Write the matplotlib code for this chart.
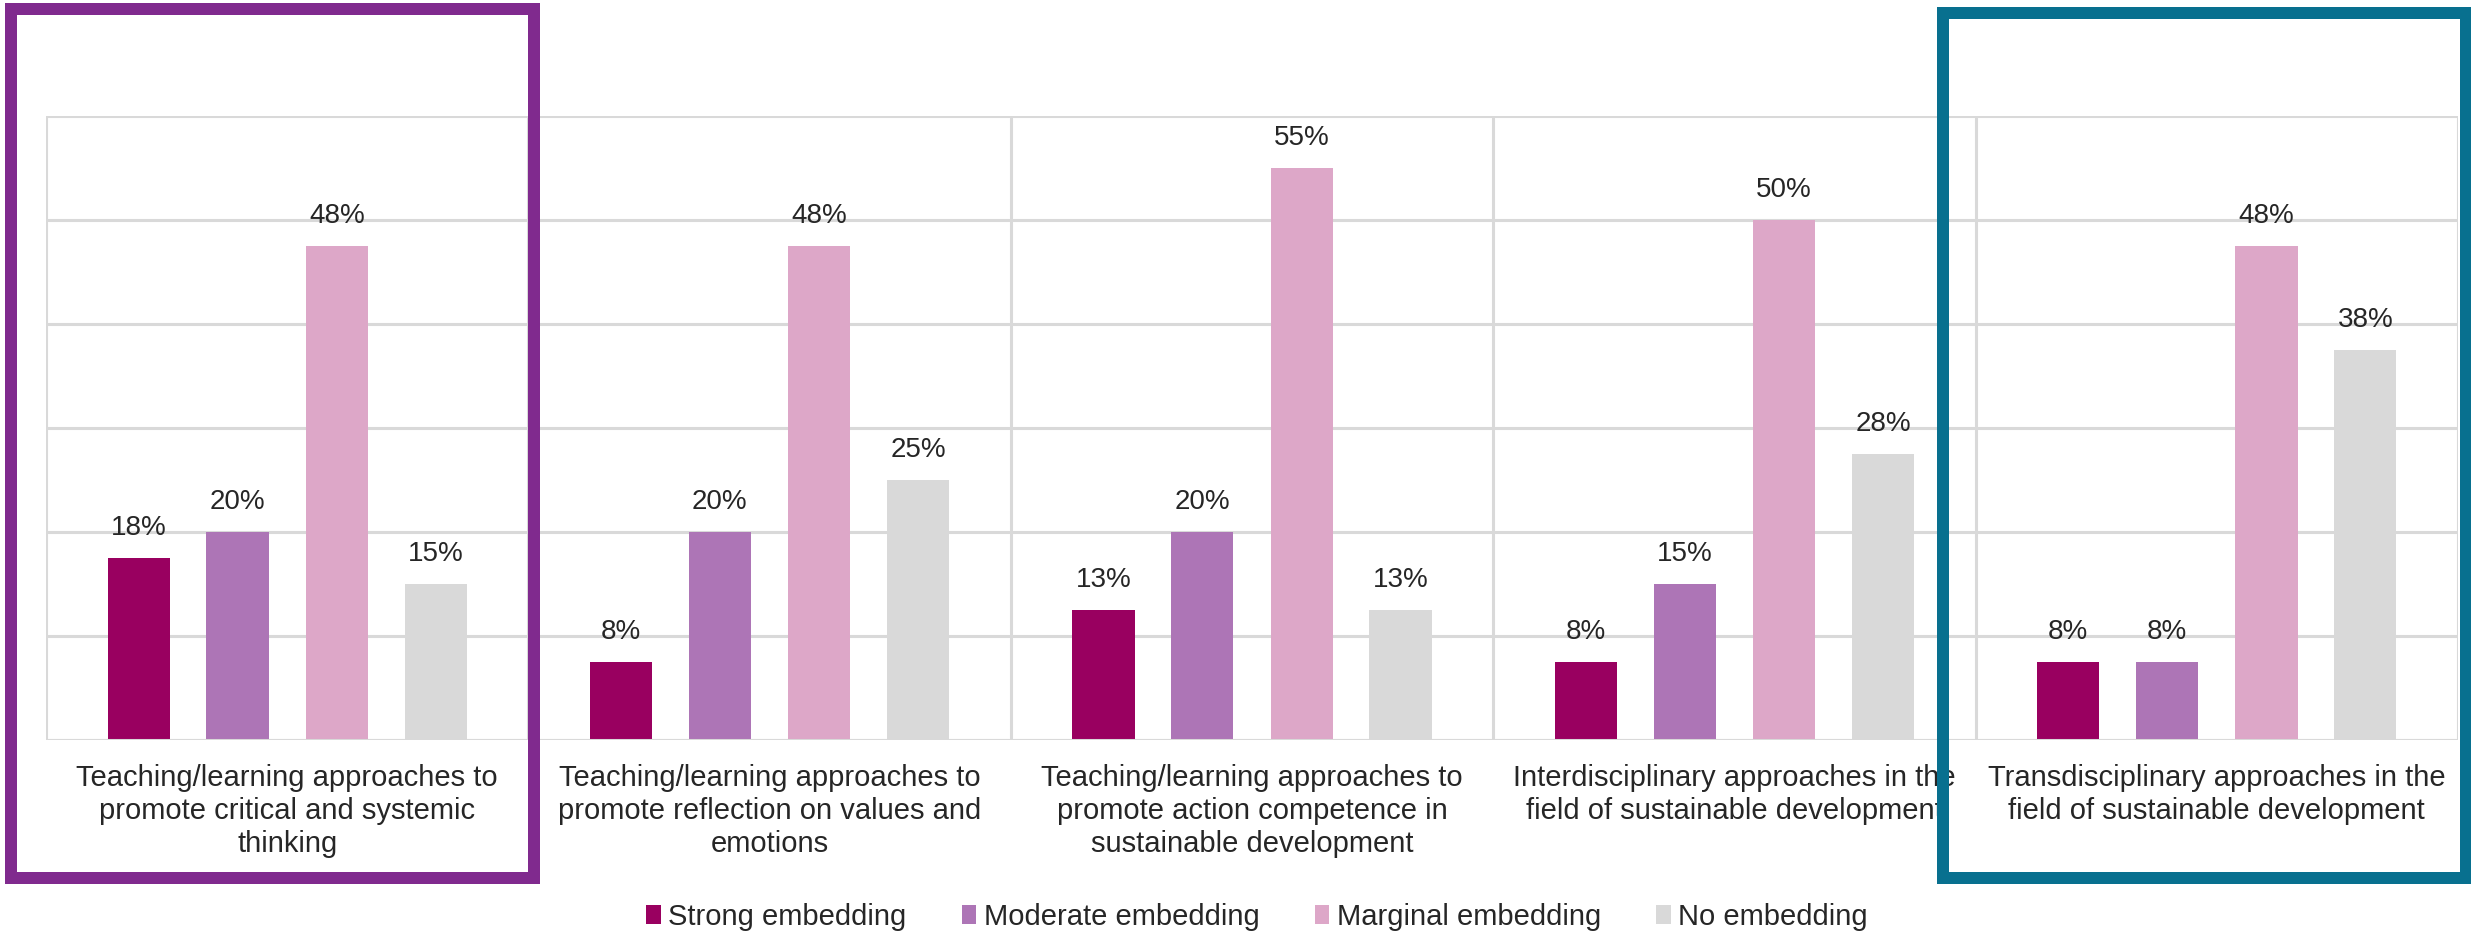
import matplotlib
matplotlib.use("Agg")
import matplotlib.pyplot as plt
from matplotlib.patches import Patch, Rectangle
import numpy as np

plt.rcParams["font.family"] = ["Liberation Sans", "DejaVu Sans"]

# ── Data ──────────────────────────────────────────────────────────────────────
categories = [
    "Teaching/learning approaches to\npromote critical and systemic\nthinking",
    "Teaching/learning approaches to\npromote reflection on values and\nemotions",
    "Teaching/learning approaches to\npromote action competence in\nsustainable development",
    "Interdisciplinary approaches in the\nfield of sustainable development",
    "Transdisciplinary approaches in the\nfield of sustainable development",
]
series_names = ["Strong embedding", "Moderate embedding",
                "Marginal embedding", "No embedding"]
strong = [17.5, 7.5, 12.5, 7.5, 7.5]
moderate = [20.0, 20.0, 20.0, 15.0, 7.5]
marginal = [47.5, 47.5, 55.0, 50.0, 47.5]
no_embed = [15.0, 25.0, 12.5, 27.5, 37.5]

colors = ["#990060", "#AD75B6", "#DDA7C8", "#D9D9D9"]
grid_color = "#D9D9D9"

# ── Figure ────────────────────────────────────────────────────────────────────
W, H = 2471, 934
fig = plt.figure(figsize=(W / 100, H / 100), dpi=100)
ax = fig.add_axes([46 / W, 1 - 740 / H, (2458 - 46) / W, (740 - 116) / H])

x = np.arange(len(categories))
offsets = [-0.308, -0.103, 0.103, 0.308]
width = 0.129
for vals, name, col, off in zip([strong, moderate, marginal, no_embed],
                                series_names, colors, offsets):
    bars = ax.bar(x + off, vals, width, color=col, label=name, zorder=3)
    ax.bar_label(bars, labels=[f"{int(np.floor(v + 0.5))}%" for v in vals],
                 padding=12.5, fontsize=20, color="#262626")

ax.set_xlim(-0.5, len(categories) - 0.5)
ax.set_ylim(0, 60)
ax.set_yticks(np.arange(0, 61, 10))
ax.yaxis.grid(True, color=grid_color, linewidth=2.2, zorder=0)
for b in np.arange(-0.5, len(categories), 1.0):
    ax.axvline(b, color=grid_color, linewidth=2.2, zorder=0)
ax.tick_params(axis="y", left=False, labelleft=False)
ax.set_xticks(x)
ax.set_xticklabels(categories, fontsize=21, color="#262626", linespacing=1.23)
ax.tick_params(axis="x", length=0, pad=17.5)
for s in ax.spines.values():
    s.set_visible(False)
ax.axhline(0, color=grid_color, linewidth=2.2, zorder=4)

# highlight frames
px = 72 / 100
fig.add_artist(Rectangle((11 / W, 1 - 878 / H), (534 - 11) / W, (878 - 9) / H,
                         transform=fig.transFigure, fill=False,
                         edgecolor="#802A8E", linewidth=12 * px))
fig.add_artist(Rectangle((1943 / W, 1 - 878 / H), (2466 - 1943) / W, (878 - 13) / H,
                         transform=fig.transFigure, fill=False,
                         edgecolor="#08708F", linewidth=12 * px))

handles = [Patch(facecolor=c, label=n) for c, n in zip(colors, series_names)]
fig.legend(handles=handles, loc="center", bbox_to_anchor=(1257 / W, 1 - 917 / H),
           ncol=4, frameon=False, fontsize=21, handlelength=0.5,
           handleheight=0.6, handletextpad=0.25, columnspacing=1.9,
           labelcolor="#262626")

fig.savefig("out.png", dpi=100)
